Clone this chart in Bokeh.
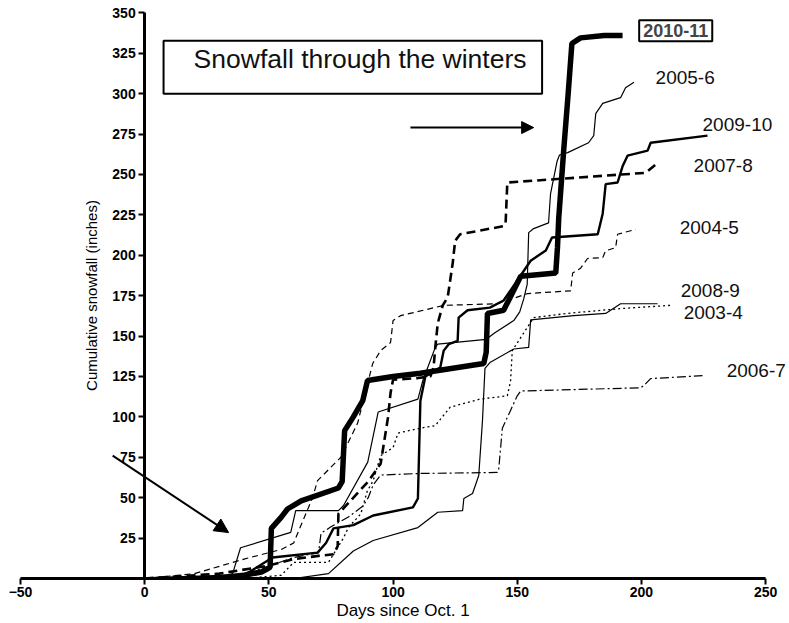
from bokeh.plotting import figure
from bokeh.models import (LinearAxis, FixedTicker, Range1d, BoxAnnotation, Label,
                          Arrow, NormalHead)
from bokeh.embed import file_html
from bokeh.resources import INLINE

# ---------------- data ----------------
x_2010_11 = [27, 40, 47, 49.5, 50.5, 51, 55, 57.5, 63, 78, 79.5, 80.5, 84, 87.8, 89.7, 100, 111, 136.5,
             137.5, 138, 144.5, 146.5, 151.4, 158, 165.5, 166.2, 166.7, 168.7, 170.5, 172, 175.5, 185, 192.4]
y_2010_11 = [0, 2, 4, 6, 7, 31, 38, 43, 48, 56, 60, 91.5, 100, 110, 122.5, 125, 127, 133,
             140, 164, 166, 172, 187, 188, 189, 205, 223, 265, 300, 331, 334.5, 336, 336]

x_2005_6 = [0, 30, 35.4, 38.6, 58.8, 60.8, 78, 80, 89.8, 94, 110, 112, 117, 118, 137.5, 141, 148.6,
            151, 152.6, 154, 154.6, 156.6, 162.6, 163.4, 166, 167, 170.3, 178.7, 180.8, 181.6, 184.4,
            191.6, 193.6, 197]
y_2005_6 = [0, 0, 3, 19, 28.5, 42, 42, 45, 72, 103, 111, 122.5, 143, 145, 148, 152, 159.6,
            165, 173, 182, 214, 216.5, 220, 238, 258, 262, 263.5, 269.6, 274, 287.6, 294,
            297.5, 303.6, 307]

x_2009_10 = [0, 40, 51.5, 69.6, 73, 76, 84, 92, 108, 110, 111, 113, 119, 120.4, 122.4, 126, 126.4, 130,
             139, 144.5, 155.4, 161.5, 164, 182.4, 184.4, 185.6, 190.4, 192.4, 194.4, 202.5, 203.7, 226.6]
y_2009_10 = [0, 2, 13, 16, 22, 31, 33, 39, 44, 49.5, 110, 125, 130.5, 141, 145, 147, 161.4, 166,
             167.6, 172, 196.6, 203, 211, 213, 225.7, 244, 245, 255, 261.6, 264.7, 269.6, 274]

x_2007_8 = [0, 30, 50, 60, 70, 76, 77.7, 78, 90, 95, 98, 99, 100, 110, 115, 116.3, 117, 118, 120, 122,
            124, 125, 127, 144.5, 145.3, 146, 201.7, 206.5]
y_2007_8 = [0, 3, 8, 12, 14, 15, 20, 40, 60, 71, 100, 115, 123, 124, 125, 130.5, 143, 158, 169, 174,
            195, 209, 213, 218, 219.5, 245, 251, 257]

x_2004_5 = [0, 20, 40, 55, 60, 61.6, 67.6, 69.6, 79, 85.7, 88, 91.8, 95, 99, 100, 103, 120.4, 142,
            154.2, 171.5, 172.3, 175.5, 178.3, 184.4, 185.6, 189.6, 190.4, 197.7]
y_2004_5 = [0, 3, 12, 18, 22, 28, 50, 60.6, 75, 96, 110, 133, 141, 146, 159.6, 162.6, 169, 170,
            176.3, 178, 189, 192, 198, 198.5, 202.8, 204.7, 213, 216]

x_2008_9 = [0, 60, 74, 84, 92, 110, 118, 128, 128.5, 132, 134.5, 136, 137, 139, 148.6,
            154.6, 155.4, 172.7, 185.6, 191.6, 206.5]
y_2008_9 = [0, 0, 3, 17, 23.5, 31.5, 41, 42, 49.5, 52.6, 63.7, 97.7, 130, 133.6, 142,
            143, 160, 162.6, 164, 170, 170]

x_2003_4 = [0, 40, 55, 60, 74, 80, 82, 87, 89.6, 92, 95, 100, 102, 111, 117, 123, 135, 146, 147.3,
            148, 156.6, 170, 191.6, 211.7]
y_2003_4 = [0, 0, 2, 10, 10, 25, 31.5, 40, 54, 60.6, 76, 81, 90, 93, 94.6, 106, 111, 113, 122,
            141, 161.4, 164, 167, 169]

x_2006_7 = [0, 30, 45, 60, 70, 71, 75, 82, 88, 90, 92, 95, 111, 142, 142.5, 144, 147.3, 150, 151.4,
            199.7, 201, 203.7, 224.6]
y_2006_7 = [0, 0, 5, 13, 16, 28, 32, 38, 45, 50, 58, 64, 65, 65.6, 67, 93, 104, 113, 116,
            118, 119.4, 123.7, 125.5]

season_names = ["2010-11", "2005-6", "2009-10", "2007-8", "2004-5", "2008-9", "2003-4", "2006-7"]
label_x = [213.8, 205.7, 224.6, 221.0, 215.4, 215.8, 217.0, 234.3]
label_y = [338.9, 309.8, 280.8, 255.4, 217.0, 178.0, 164.5, 129.0]

x_ticks = [-50, 0, 50, 100, 150, 200, 250]
y_ticks = [25, 50, 75, 100, 125, 150, 175, 200, 225, 250, 275, 300, 325, 350]

FONT = "Liberation Sans"

# ---------------- figure ----------------
p = figure(width=789, height=623, output_backend="svg", toolbar_location=None,
           x_range=Range1d(-50, 258), y_range=Range1d(0, 357),
           y_axis_location=None, min_border_left=20, min_border_right=4,
           min_border_top=1, min_border_bottom=45)
p.outline_line_color = None
p.xgrid.visible = False
p.ygrid.visible = False
p.background_fill_color = "white"

xa = p.xaxis[0]
xa.bounds = (-50, 250)
xa.ticker = FixedTicker(ticks=x_ticks)
xa.axis_label = "Days since Oct. 1"
xa.axis_label_text_font = FONT
xa.axis_label_text_font_style = "normal"
xa.axis_label_text_font_size = "17px"
xa.axis_label_text_color = "black"
xa.axis_label_standoff = 1
xa.major_label_text_font = FONT
xa.major_label_text_font_style = "bold"
xa.major_label_text_font_size = "14px"
xa.major_label_text_color = "black"
xa.axis_line_width = 3
xa.major_tick_line_width = 2
xa.major_tick_out = 6
xa.major_tick_in = 0
xa.minor_tick_line_color = None
xa.major_label_standoff = 2

ya = LinearAxis(fixed_location=0, ticker=FixedTicker(ticks=y_ticks), bounds=(0, 350))
ya.axis_label = "Cumulative snowfall (inches)"
ya.axis_label_text_font = FONT
ya.axis_label_text_font_style = "normal"
ya.axis_label_text_font_size = "15px"
ya.axis_label_text_color = "black"
ya.axis_label_standoff = 9
ya.major_label_text_font = FONT
ya.major_label_text_font_style = "bold"
ya.major_label_text_font_size = "14px"
ya.major_label_text_color = "black"
ya.axis_line_width = 3
ya.major_tick_line_width = 2
ya.major_tick_out = 6
ya.major_tick_in = 0
ya.minor_tick_line_color = None
ya.major_label_standoff = 3
p.add_layout(ya, "left")

# ---------------- series ----------------
p.line(x_2006_7, y_2006_7, line_color="black", line_width=1.2, line_dash="9 3 2 3")
p.line(x_2003_4, y_2003_4, line_color="black", line_width=1.3, line_dash="2 3")
p.line(x_2004_5, y_2004_5, line_color="black", line_width=1.2, line_dash="6 4")
p.line(x_2008_9, y_2008_9, line_color="black", line_width=1.2)
p.line(x_2005_6, y_2005_6, line_color="black", line_width=1.2)
p.line(x_2007_8, y_2007_8, line_color="black", line_width=2.6, line_dash="9 5")
p.line(x_2009_10, y_2009_10, line_color="black", line_width=2.4)
p.line(x_2010_11, y_2010_11, line_color="black", line_width=5.5)

# ---------------- annotations ----------------
p.add_layout(BoxAnnotation(left=7.6, right=160, bottom=300, top=332.7, fill_color=None,
                           fill_alpha=0, line_color="black", line_alpha=1, line_width=2))
p.add_layout(Label(x=19.7, y=321.6, text="Snowfall through the winters", text_font=FONT,
                   text_font_size="26.5px", text_align="left", text_baseline="middle",
                   text_color="#111111"))

for i, name in enumerate(season_names):
    if i == 0:
        p.add_layout(Label(x=label_x[i], y=label_y[i], text=name, text_font=FONT,
                           text_font_size="18px", text_font_style="bold", text_align="center",
                           text_baseline="middle", border_line_color="black", border_line_width=2,
                           background_fill_color="white", padding=4))
    else:
        p.add_layout(Label(x=label_x[i], y=label_y[i], text=name, text_font=FONT,
                           text_font_size="19px", text_align="left", text_baseline="middle",
                           text_color="#111111"))

p.add_layout(Arrow(x_start=107, y_start=279, x_end=156.6, y_end=279, line_width=2,
                   end=NormalHead(size=12, fill_color="black", line_color="black")))
p.add_layout(Arrow(x_start=-12.9, y_start=76, x_end=33.8, y_end=28.4, line_width=2,
                   end=NormalHead(size=14, fill_color="black", line_color="black")))

open("out.html", "w").write(file_html(p, INLINE))
